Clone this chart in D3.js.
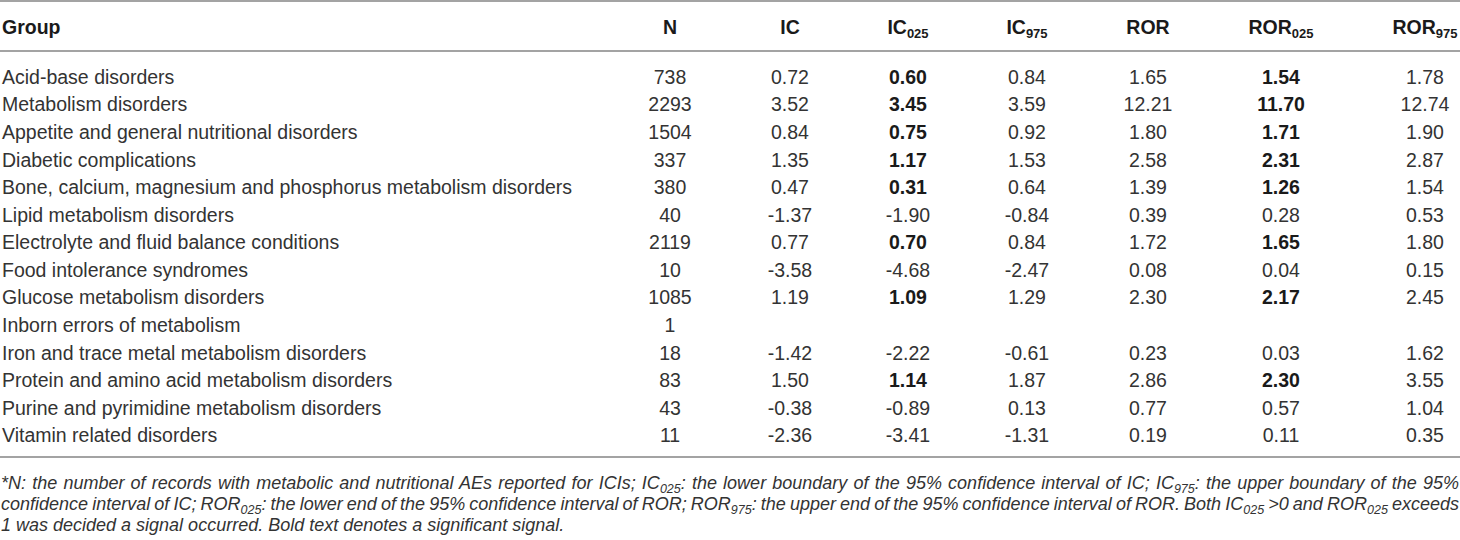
<!DOCTYPE html>
<html>
<head>
<meta charset="utf-8">
<script src="https://cdn.jsdelivr.net/npm/d3@7"></script>
<style>
  body { margin: 0; background: #fff; }
  svg { display: block; font-family: "Liberation Sans", Arial, Helvetica, sans-serif; }
</style>
</head>
<body>
<div id="table"></div>
<script>
// Table content
const groups = [
  "Acid-base disorders",
  "Metabolism disorders",
  "Appetite and general nutritional disorders",
  "Diabetic complications",
  "Bone, calcium, magnesium and phosphorus metabolism disorders",
  "Lipid metabolism disorders",
  "Electrolyte and fluid balance conditions",
  "Food intolerance syndromes",
  "Glucose metabolism disorders",
  "Inborn errors of metabolism",
  "Iron and trace metal metabolism disorders",
  "Protein and amino acid metabolism disorders",
  "Purine and pyrimidine metabolism disorders",
  "Vitamin related disorders"
]
const nValues = [738, 2293, 1504, 337, 380, 40, 2119, 10, 1085, 1, 18, 83, 43, 11]
const ic     = [0.72, 3.52, 0.84, 1.35, 0.47, -1.37, 0.77, -3.58, 1.19, null, -1.42, 1.50, -0.38, -2.36]
const ic025  = [0.60, 3.45, 0.75, 1.17, 0.31, -1.90, 0.70, -4.68, 1.09, null, -2.22, 1.14, -0.89, -3.41]
const ic975  = [0.84, 3.59, 0.92, 1.53, 0.64, -0.84, 0.84, -2.47, 1.29, null, -0.61, 1.87, 0.13, -1.31]
const ror    = [1.65, 12.21, 1.80, 2.58, 1.39, 0.39, 1.72, 0.08, 2.30, null, 0.23, 2.86, 0.77, 0.19]
const ror025 = [1.54, 11.70, 1.71, 2.31, 1.26, 0.28, 1.65, 0.04, 2.17, null, 0.03, 2.30, 0.57, 0.11]
const ror975 = [1.78, 12.74, 1.90, 2.87, 1.54, 0.53, 1.80, 0.15, 2.45, null, 1.62, 3.55, 1.04, 0.35]

// header labels: [main, subscript]
const headers = [["N", ""], ["IC", ""], ["IC", "025"], ["IC", "975"], ["ROR", ""], ["ROR", "025"], ["ROR", "975"]]

const footnoteLines = [
  [["*N: the number of records with metabolic and nutritional AEs reported for ICIs; IC"], ["025", 1],
   [": the lower boundary of the 95% confidence interval of IC; IC"], ["975", 1], [": the upper boundary of the 95%"]],
  [["confidence interval of IC; ROR"], ["025", 1], [": the lower end of the 95% confidence interval of ROR; ROR"], ["975", 1],
   [": the upper end of the 95% confidence interval of ROR. Both IC"], ["025", 1], [" >0 and ROR"], ["025", 1], [" exceeds"]],
  [["1 was decided a signal occurred. Bold text denotes a significant signal."]]
]

const width = 1460
const height = 540
const fontSize = 19.5

const svg = d3.select("#table")
  .append("svg")
  .attr("width", width)
  .attr("height", height)

const fmt = v => v == null ? "" : d3.format(".2f")(v).replace("\u2212", "-")

// row positions
const yScale = d3.scalePoint()
  .domain(groups)
  .range([77, 435.5])

// column centres
const xScale = d3.scaleOrdinal()
  .domain(d3.range(headers.length))
  .range([670, 790, 908, 1027, 1148, 1281, 1425])

// Rules
const rules = [1, 51, 457]
svg.selectAll(".rule")
  .data(rules)
  .join("line")
  .attr("class", "rule")
  .attr("x1", 0)
  .attr("x2", width)
  .attr("y1", d => d)
  .attr("y2", d => d)
  .attr("stroke", "#a3a3a3")
  .attr("stroke-width", 2)

// Header
svg.append("text")
  .attr("x", 2)
  .attr("y", 27)
  .attr("dy", "0.35em")
  .style("font-size", fontSize + "px")
  .style("font-weight", "bold")
  .attr("fill", "#1a1a1a")
  .text("Group")

const head = svg.selectAll(".head")
  .data(headers)
  .join("text")
  .attr("class", "head")
  .attr("x", (d, i) => xScale(i))
  .attr("y", 27)
  .attr("dy", "0.35em")
  .attr("text-anchor", "middle")
  .style("font-size", fontSize + "px")
  .style("font-weight", "bold")
  .attr("fill", "#1a1a1a")
head.append("tspan").text(d => d[0])
head.filter(d => d[1])
  .append("tspan")
  .attr("dy", 4)
  .style("font-size", "13px")
  .text(d => d[1])

// Body rows
const rows = groups.map((g, i) => ({
  group: g,
  values: [nValues[i], ic[i], ic025[i], ic975[i], ror[i], ror025[i], ror975[i]],
  signal: ic025[i] > 0 && ror025[i] > 1
}))

const rowG = svg.selectAll(".row")
  .data(rows)
  .join("g")
  .attr("class", "row")
  .attr("transform", d => `translate(0,${yScale(d.group)})`)

rowG.append("text")
  .attr("x", 2)
  .attr("dy", "0.35em")
  .style("font-size", fontSize + "px")
  .attr("fill", "#333")
  .text(d => d.group)

rowG.selectAll(".cell")
  .data(d => d.values.map((v, j) => ({ v, j, signal: d.signal })))
  .join("text")
  .attr("class", "cell")
  .attr("x", d => xScale(d.j))
  .attr("dy", "0.35em")
  .attr("text-anchor", "middle")
  .style("font-size", fontSize + "px")
  .style("font-weight", d => d.signal && (d.j === 2 || d.j === 5) ? "bold" : "normal")
  .attr("fill", d => d.signal && (d.j === 2 || d.j === 5) ? "#1a1a1a" : "#333")
  .text(d => d.j === 0 ? d.v : fmt(d.v))

// Footnote
const noteY = [483, 504, 525]
footnoteLines.forEach((segs, k) => {
  const t = svg.append("text")
    .attr("x", 1)
    .attr("y", noteY[k])
    .attr("dy", "0.35em")
    .style("font-size", "18px")
    .style("font-style", "italic")
    .attr("fill", "#333")
  let shifted = false
  segs.forEach(s => {
    const sp = t.append("tspan").text(s[0])
    if (s[1]) {
      sp.attr("dy", 4).style("font-size", "12.5px")
      shifted = true
    } else if (shifted) {
      sp.attr("dy", -4)
      shifted = false
    }
  })
  // justify the first two lines to the full width
  if (k < 2) {
    const w = t.node().getComputedTextLength()
    const spaces = segs.map(s => s[0]).join("").split(" ").length - 1
    t.style("word-spacing", ((1458 - w) / spaces) + "px")
  }
})
</script>
</body>
</html>
